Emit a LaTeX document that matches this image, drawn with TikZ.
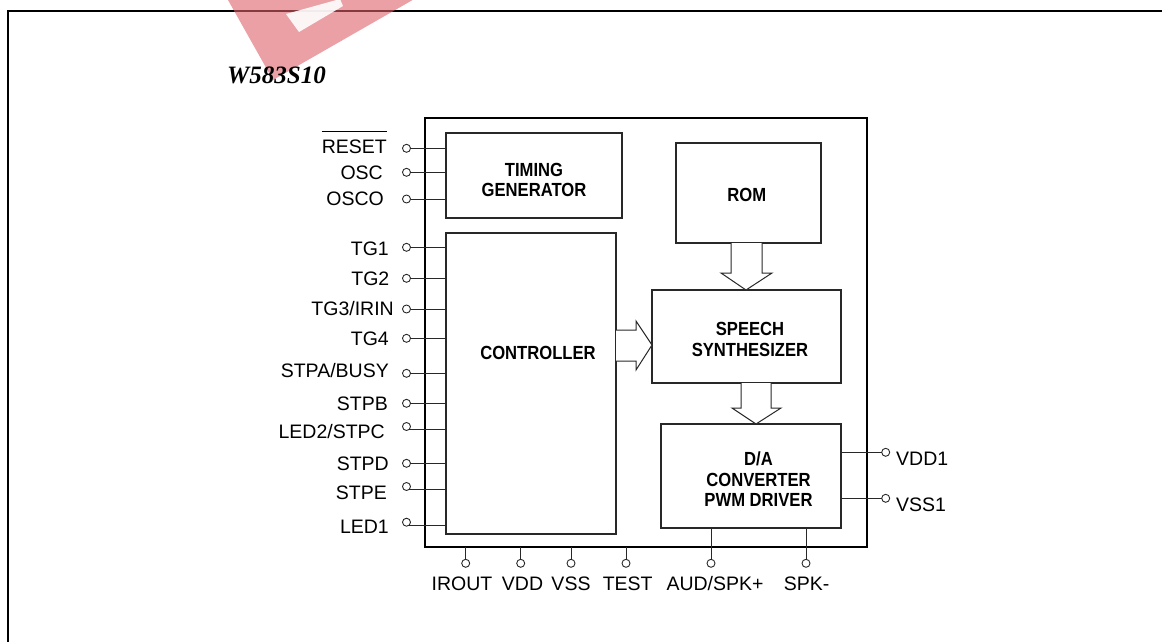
\documentclass[tikz,border=0pt]{standalone}
\usepackage{fontspec}
\setmainfont{Liberation Sans}
\newfontfamily\blkfont[FakeStretch=0.875]{Liberation Sans}
\newfontfamily\ttlfont{Liberation Serif}
\definecolor{wmpink}{RGB}{220,97,105}
\definecolor{ink}{RGB}{40,40,40}
\begin{document}
\begin{tikzpicture}[x=1pt,y=-1pt,
  box/.style={draw=ink,line width=1.1pt,inner sep=0,outer sep=0},
  chipbox/.style={draw=black,line width=2pt,inner sep=0,outer sep=0},
  pinc/.style={circle,draw=ink,line width=0.9pt,minimum size=8pt,inner sep=0,outer sep=0,fill=white},
  wire/.style={draw=ink,line width=1pt},
  plab/.style={inner sep=0,font=\fontsize{19.5}{22}\selectfont},
  blab/.style={inner sep=0,align=center,font=\blkfont\bfseries\fontsize{19}{20.5}\selectfont},
  barrow/.style={draw=ink,line width=1pt,fill=white,line join=miter}]
\useasboundingbox (0,0) rectangle (1162,641);
% outer frame
\draw[line width=2.3pt] (8,645) -- (8,11) -- (1170,11);
% watermark
\fill[wmpink,opacity=0.6] (216.75,-20) -- (273,80) -- (447.5,-20) -- cycle;
\fill[white,opacity=0.9] (286,14) -- (340,-1) -- (343,6) -- (299,32) -- cycle;
% title
\node[inner sep=0,anchor=base west,font=\ttlfont\bfseries\itshape\fontsize{25}{25}\selectfont] (title) at (227,83.3) {W583S10};
% chip
\node[chipbox,minimum width=441.7pt,minimum height=428.7pt] (chip) at (645.85,332.35) {};
% blocks
\node[box,minimum width=176pt,minimum height=85pt] (tg) at (534,175.5) {};
\node[box,minimum width=170pt,minimum height=301pt] (ctrl) at (531,383.5) {};
\node[box,minimum width=145pt,minimum height=100pt] (rom) at (748.5,193) {};
\node[box,minimum width=189pt,minimum height=93pt] (sp) at (746.5,336.5) {};
\node[box,minimum width=180pt,minimum height=104pt] (da) at (751,476) {};
\node[blab] (ttg) at (534,179.9) {TIMING\\GENERATOR};
\node[blab] (tctrl) at (538,353.3) {CONTROLLER};
\node[blab] (trom) at (746.7,195) {ROM};
\node[blab] (tsp) at (750,339.7) {SPEECH\\SYNTHESIZER};
\node[blab] (tda) at (758.5,479.2) {D/A\\CONVERTER\\PWM DRIVER};
% block arrows
\draw[barrow] (731,0 |- rom.south) -- (731,273) -- (721,273) -- (746,0 |- sp.north) -- (772,273) -- (762,273) -- (762,0 |- rom.south);
\draw[barrow] (741,0 |- sp.south) -- (741,408) -- (732,408) -- (756,0 |- da.north) -- (781,408) -- (771,408) -- (771,0 |- sp.south);
\draw[barrow] (ctrl.east |- 0,330) -- (636,330) -- (636,321) -- (sp.west |- 0,345) -- (636,370) -- (636,361) -- (ctrl.east |- 0,361);
% left pins
\node[pinc] (pRESET) at (406.5,148.3) {};
\node[pinc] (pOSC) at (406.5,172.3) {};
\node[pinc] (pOSCO) at (406.5,199) {};
\node[pinc] (pTG1) at (406.5,247.3) {};
\node[pinc] (pTG2) at (406.5,278.3) {};
\node[pinc] (pTG3) at (406.5,309) {};
\node[pinc] (pTG4) at (406.5,338.3) {};
\node[pinc] (pSTPA) at (406.5,373.3) {};
\node[pinc] (pSTPB) at (406.5,403.3) {};
\node[pinc] (pLED2) at (406.5,426.5) {};
\node[pinc] (pSTPD) at (406.5,463.3) {};
\node[pinc] (pSTPE) at (406.5,486.5) {};
\node[pinc] (pLED1) at (406.5,522.2) {};
\draw[wire] (pRESET) -- (pRESET -| tg.west);
\draw[wire] (pOSC) -- (pOSC -| tg.west);
\draw[wire] (pOSCO) -- (pOSCO -| tg.west);
\draw[wire] (pTG1) -- (pTG1 -| ctrl.west);
\draw[wire] (pTG2) -- (pTG2 -| ctrl.west);
\draw[wire] (pTG3) -- (pTG3 -| ctrl.west);
\draw[wire] (pTG4) -- (pTG4 -| ctrl.west);
\draw[wire] (pSTPA) -- (pSTPA -| ctrl.west);
\draw[wire] (pSTPB) -- (pSTPB -| ctrl.west);
\draw[wire] (pLED2.south east) -- (pLED2.south east -| ctrl.west);
\draw[wire] (pSTPD) -- (pSTPD -| ctrl.west);
\draw[wire] (pSTPE.south east) -- (pSTPE.south east -| ctrl.west);
\draw[wire] (pLED1.south east) -- (pLED1.south east -| ctrl.west);
\node[plab,anchor=base east] (lRESET) at (387,153) {RESET};
\draw[line width=1pt] (lRESET.west |- 0,131.7) -- (lRESET.east |- 0,131.7);
\node[plab,anchor=base east] (lOSC) at (383,179.3) {OSC};
\node[plab,anchor=base east] (lOSCO) at (384,205) {OSCO};
\node[plab,anchor=base east] (lTG1) at (389,255) {TG1};
\node[plab,anchor=base east] (lTG2) at (389.5,285) {TG2};
\node[plab,anchor=base east] (lTG3) at (394,315) {TG3/IRIN};
\node[plab,anchor=base east] (lTG4) at (389,345.7) {TG4};
\node[plab,anchor=base east] (lSTPA) at (389,377.3) {STPA/BUSY};
\node[plab,anchor=base east] (lSTPB) at (388,410) {STPB};
\node[plab,anchor=base east] (lLED2) at (385,438.3) {LED2/STPC};
\node[plab,anchor=base east] (lSTPD) at (389,470) {STPD};
\node[plab,anchor=base east] (lSTPE) at (387,499.3) {STPE};
\node[plab,anchor=base east] (lLED1) at (389,533.3) {LED1};
% bottom pins
\node[pinc] (pIROUT) at (465.7,563.3) {};
\node[pinc] (pVDD) at (520.7,563.3) {};
\node[pinc] (pVSS) at (571,563.3) {};
\node[pinc] (pTEST) at (626,563.3) {};
\node[pinc] (pAUD) at (711,563.3) {};
\node[pinc] (pSPK) at (806,563.3) {};
\draw[wire] (pIROUT) -- (pIROUT |- chip.south);
\draw[wire] (pVDD) -- (pVDD |- chip.south);
\draw[wire] (pVSS) -- (pVSS |- chip.south);
\draw[wire] (pTEST) -- (pTEST |- chip.south);
\draw[wire] (pAUD) -- (pAUD |- da.south);
\draw[wire] (pSPK) -- (pSPK |- da.south);
\node[plab,anchor=base] (lIROUT) at (462,590) {IROUT};
\node[plab,anchor=base] (lVDD) at (522.5,590) {VDD};
\node[plab,anchor=base] (lVSS) at (571,590) {VSS};
\node[plab,anchor=base] (lTEST) at (627.7,590) {TEST};
\node[plab,anchor=base] (lAUD) at (715,590) {AUD/SPK+};
\node[plab,anchor=base] (lSPK) at (806.7,590) {SPK-};
% right pins
\node[pinc] (pVDD1) at (885.7,452.3) {};
\node[pinc] (pVSS1) at (885.7,498.3) {};
\draw[wire] (pVDD1) -- (pVDD1 -| da.east);
\draw[wire] (pVSS1) -- (pVSS1 -| da.east);
\node[plab,anchor=base west] (lVDD1) at (896,465.7) {VDD1};
\node[plab,anchor=base west] (lVSS1) at (896,511.7) {VSS1};
\end{tikzpicture}
\end{document}
